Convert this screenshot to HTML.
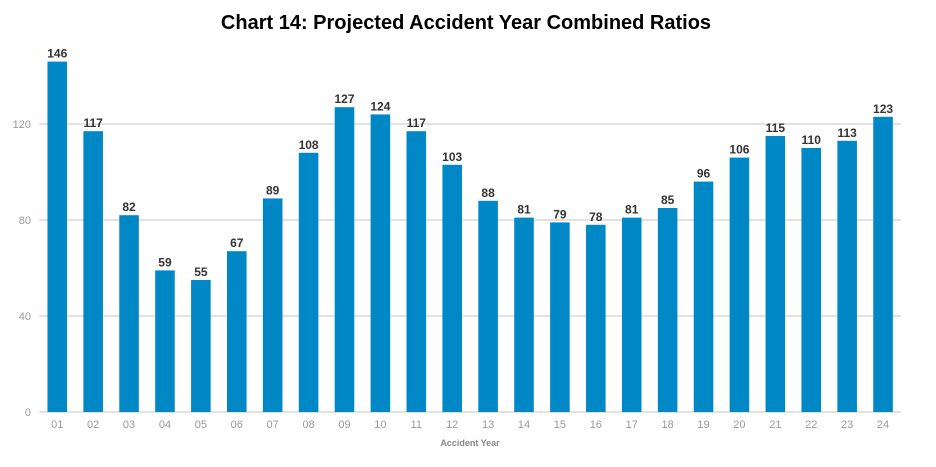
<!DOCTYPE html>
<html><head><meta charset="utf-8"><style>
body{margin:0;background:#fff;font-family:"Liberation Sans",Arial,sans-serif}
</style></head><body>
<svg width="936" height="462" xmlns="http://www.w3.org/2000/svg">
<text x="466" y="29" text-anchor="middle" font-size="20" font-weight="bold" fill="#000">Chart 14: Projected Accident Year Combined Ratios</text>
<g id="grid"></g><g id="bars"></g><g id="labels"></g>
<text x="470" y="446" text-anchor="middle" font-size="9" font-weight="bold" fill="#888">Accident Year</text>
</svg>
<script>
const categories=["01","02","03","04","05","06","07","08","09","10","11","12","13","14","15","16","17","18","19","20","21","22","23","24"];
const values=[146,117,82,59,55,67,89,108,127,124,117,103,88,81,79,78,81,85,96,106,115,110,113,123];
const yTicks=[0,40,80,120];
const NS="http://www.w3.org/2000/svg";
const x0=39.3,x1=901,y0=412,pxPer=2.4;
const band=(x1-x0)/categories.length,bw=band*0.545;
const y=v=>y0-v*pxPer;
const xc=i=>x0+band*(i+0.5);
function mk(t,a,p){const e=document.createElementNS(NS,t);for(const k in a)e.setAttribute(k,a[k]);p.appendChild(e);return e;}
const g=document.getElementById('grid'),b=document.getElementById('bars'),l=document.getElementById('labels');
yTicks.forEach(t=>{
const ln=mk('line',{x1:x0,x2:x1,y1:y(t),y2:y(t),stroke:'#d9d9d9','stroke-width':1.5},g);


const tx=mk('text',{x:31,y:y(t)+4,'text-anchor':'end','font-size':11,fill:'#999'},g);
tx.textContent=t;


});
categories.forEach((c,i)=>{
const r=mk('rect',{x:xc(i)-bw/2,y:y(values[i]),width:bw,height:values[i]*pxPer,fill:'#0088c6'},b);


const v=mk('text',{x:xc(i),y:y(values[i])-4,'text-anchor':'middle','font-size':12,'font-weight':'bold',fill:'#333'},l);
v.textContent=values[i];


const xt=mk('text',{x:xc(i),y:428,'text-anchor':'middle','font-size':11,fill:'#999'},l);
xt.textContent=c;


});
</script>
</body></html>
